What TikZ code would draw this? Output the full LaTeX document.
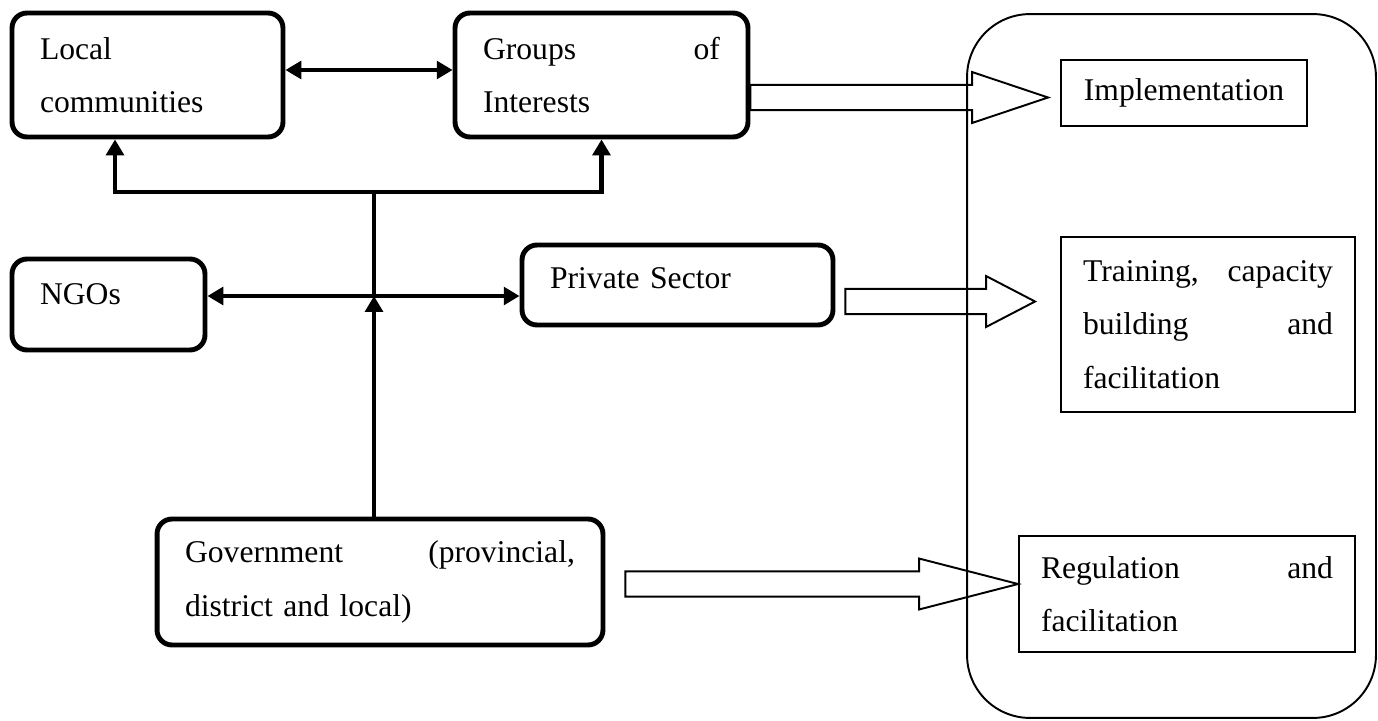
\documentclass[tikz,border=0pt]{standalone}
\usepackage{fontspec}
\setmainfont{Liberation Serif}
\usetikzlibrary{arrows.meta}
\usetikzlibrary{calc}

\begin{document}
\begin{tikzpicture}[x=0.02cm, y=-0.02cm,
 font=\fontsize{18pt}{30.4pt}\selectfont,
 actor/.style={draw, line width=2.8pt, rounded corners=0.3cm, align=left,
  inner xsep=0.56cm, inner ysep=0pt},
 role/.style={draw, line width=1.1pt, align=left, inner xsep=0.44cm, inner ysep=0pt},
 link/.style={line width=2.5pt, -{Triangle[length=9pt,width=10pt]}},
 links/.style={line width=2.5pt, {Triangle[length=9pt,width=10pt]}-{Triangle[length=9pt,width=10pt]}},
 hollow/.style={draw, line width=1.1pt, line join=miter, to path={
  let \p1=(\tikztostart), \p2=(\tikztotarget) in
  (\x1,{\y1+7.2pt}) -- ({\x2-#1},{\y1+7.2pt}) -- ({\x2-#1},{\y1+14.5pt})
  -- (\x2,\y1) -- ({\x2-#1},{\y1-14.5pt}) -- ({\x2-#1},{\y1-7.2pt})
  -- (\x1,{\y1-7.2pt}) -- cycle}}]
\useasboundingbox (0,0) rectangle (1378,720);

% actors
\node[actor, text width=4.3cm, minimum height=2.48cm] (loc) at (147.5,75) {Local\\communities};
\node[actor, text width=4.74cm, minimum height=2.48cm] (grp) at (601.5,75) {Groups\hfill of\\Interests};
\node[actor, text width=2.74cm, minimum height=1.82cm, text height=12pt, text depth=12pt] (ngo) at (108.5,304.5) {NGOs};
\node[actor, text width=5.1cm, minimum height=1.6cm, text height=12pt, text depth=8pt] (pvt) at (677.5,285) {Private Sector};
\node[actor, text width=7.8cm, minimum height=2.52cm] (gov) at (380,582) {Government\hfill (provincial,\\district and local)};

% roles
\node[draw, line width=1.1pt, rounded corners=1.26cm, minimum width=8.18cm, minimum height=14.08cm] (panel) at (1171.5,366) {};
\node[role, align=center, text width=4.04cm, minimum height=1.32cm] (impl) at (1184,93) {Implementation};
\node[role, text width=5cm, minimum height=3.5cm] (trn) at (1208,324.5) {Training,\hfill capacity\\building\hfill and\\facilitation};
\node[role, text width=5.84cm, minimum height=2.32cm] (reg) at (1187,594) {Regulation\hfill and\\facilitation};

% links between actors
\coordinate (fork) at (374,192);
\coordinate (hub) at (374,296);
\draw[links] ($(loc.east)+(0,-5)$) -- ($(grp.west)+(0,-5)$);
\draw[links] ($(loc.south)+(-32.5,0)$) |- (fork) -| (grp.south);
\draw[line width=2.5pt] (fork) -- (hub);
\draw[links] (hub -| ngo.east) -- (hub -| pvt.west);
\draw[link] (hub |- gov.north) -- (hub);

% block arrows to roles
\coordinate (g0) at ($(grp.east)+(0,22.5)$);
\coordinate (g1) at ($(impl.west)+(-12,0)$);
\coordinate (p0) at ($(pvt.east)+(10,16.5)$);
\coordinate (p1) at ($(trn.west)+(-25,0)$);
\coordinate (v0) at ($(gov.east)+(20,2)$);
\coordinate (v1) at (reg.west);
\draw[hollow=1.52cm] (g0) to (g1);
\draw[hollow=0.98cm] (p0) to (p1);
\draw[hollow=1.98cm] (v0) to (v1);
\end{tikzpicture}
\end{document}
